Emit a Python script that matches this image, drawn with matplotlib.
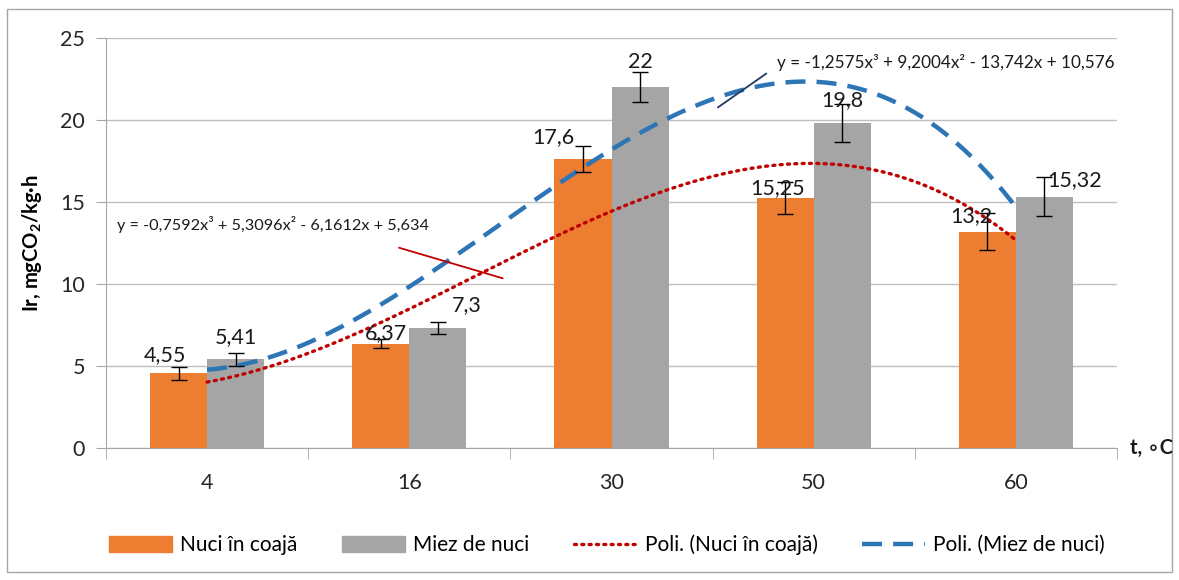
import matplotlib
matplotlib.use('Agg')
import matplotlib.pyplot as plt
import numpy as np
from matplotlib.lines import Line2D
from matplotlib.patches import Patch, Rectangle

plt.rcParams['font.family'] = ['Lato', 'DejaVu Sans']
plt.rcParams['mathtext.fontset'] = 'custom'
plt.rcParams['mathtext.rm'] = 'Lato:bold'
plt.rcParams['mathtext.it'] = 'Lato:bold'
plt.rcParams['mathtext.default'] = 'rm'

# respiration intensity vs temperature
temps = ['4', '16', '30', '50', '60']
shell = [4.55, 6.37, 17.6, 15.25, 13.2]
kernel = [5.41, 7.3, 22, 19.8, 15.32]
shell_err = [0.4, 0.25, 0.8, 1.0, 1.1]
kernel_err = [0.4, 0.37, 0.9, 1.15, 1.2]
shell_lbl = ['4,55', '6,37', '17,6', '15,25', '13,2']
kernel_lbl = ['5,41', '7,3', '22', '19,8', '15,32']

# cubic trend coefficients (x = 1..5), highest power first
shell_poly = [-0.7592, 5.3096, -6.1612, 5.634]
kernel_poly = [-1.2575, 9.2004, -13.742, 10.576]
shell_eq = 'y = -0,7592x³ + 5,3096x² - 6,1612x + 5,634'
kernel_eq = 'y = -1,2575x³ + 9,2004x² - 13,742x + 10,576'

# label nudges in pixels
shell_off = [(-14, 18), (5, 10), (-30, 22), (-8, 10), (-16, 15)]
kernel_off = [(0, 22), (29, 23), (0, 25), (0, 23), (30, 17)]

ORANGE = '#ED7D31'
GREY = '#A5A5A5'
RED = '#C00000'
BLUE = '#2E75B6'
DOTS = (0, (0.6, 1.6))
DASH = (0, (4.5, 2.5))

fig = plt.figure(figsize=(11.79, 5.80), dpi=100)
ax = fig.add_axes([106/1179, 1 - 448/580, (1117 - 106)/1179, (448 - 38)/580])

x = np.arange(len(temps))
w = 0.282
ax.bar(x - w/2, shell, w, color=ORANGE, zorder=2)
ax.bar(x + w/2, kernel, w, color=GREY, zorder=2)
ax.errorbar(x - w/2, shell, yerr=shell_err, fmt='none', ecolor='black',
            elinewidth=1, capsize=6, capthick=1, zorder=4)
ax.errorbar(x + w/2, kernel, yerr=kernel_err, fmt='none', ecolor='black',
            elinewidth=1, capsize=6, capthick=1, zorder=4)

for xi, v, t, off in zip(x - w/2, shell, shell_lbl, shell_off):
    ax.annotate(t, (xi, v), xytext=off, textcoords='offset pixels',
                ha='center', va='center', fontsize=15.5, color='#1a1a1a', zorder=5)
for xi, v, t, off in zip(x + w/2, kernel, kernel_lbl, kernel_off):
    ax.annotate(t, (xi, v), xytext=off, textcoords='offset pixels',
                ha='center', va='center', fontsize=15.5, color='#1a1a1a', zorder=5)

# polynomial trend lines through the category centres
xs = np.linspace(1, 5, 200)
ax.plot(xs - 1, np.polyval(shell_poly, xs), color=RED, lw=2.4,
        linestyle=DOTS, dash_capstyle='round', zorder=3)
ax.plot(xs - 1, np.polyval(kernel_poly, xs), color=BLUE, lw=3.2,
        linestyle=DASH, zorder=3)

ax.text(-0.445, 13.6, shell_eq, fontsize=11.7, va='center', ha='left', color='#1a1a1a')
ax.text(2.82, 23.5, kernel_eq, fontsize=12.3, va='center', ha='left', color='#1a1a1a')
ax.annotate('', xy=(1.475, 10.30), xytext=(0.936, 12.26),
            arrowprops=dict(arrowstyle='-', color=RED, lw=1.3))
ax.annotate('', xy=(2.515, 20.67), xytext=(2.777, 22.93),
            arrowprops=dict(arrowstyle='-', color='#1F3864', lw=1.3))

ax.set_xlim(-0.5, 4.5)
ax.set_ylim(0, 25)
ax.set_yticks(range(0, 26, 5))
ax.set_xticks(x)
ax.set_xticklabels(temps)
ax.set_xticks(np.arange(-0.5, 5, 1), minor=True)
ax.yaxis.grid(True, color='#BFBFBF', lw=1)
ax.set_axisbelow(True)
for s in ['top', 'right']:
    ax.spines[s].set_visible(False)
for s in ['left', 'bottom']:
    ax.spines[s].set_color('#A6A6A6')
ax.tick_params(axis='y', length=7, color='#A6A6A6', labelsize=15.5,
               labelcolor='#262626', pad=8)
ax.tick_params(axis='x', which='major', length=0, labelsize=15.5,
               labelcolor='#262626', pad=18)
ax.tick_params(axis='x', which='minor', length=8, color='#A6A6A6')

ax.set_ylabel('Ir, mgCO$_2$/kg·h', fontsize=14.5, fontweight='bold', labelpad=12)
fig.text(1151/1179, 1 - 448/580, 't, ∘C', fontsize=14.5, fontweight='bold',
         ha='center', va='center', color='#1a1a1a')

handles = [Patch(color=ORANGE), Patch(color=GREY),
           Line2D([], [], color=RED, lw=2.4, linestyle=DOTS, dash_capstyle='round'),
           Line2D([], [], color=BLUE, lw=3.2, linestyle=DASH)]
labels = ['Nuci în coajă', 'Miez de nuci', 'Poli. (Nuci în coajă)', 'Poli. (Miez de nuci)']
fig.legend(handles, labels, loc='center', bbox_to_anchor=(607/1179, 1 - 545/580),
           ncol=4, frameon=False, fontsize=15, handlelength=3.0, handleheight=0.8,
           handletextpad=0.4, columnspacing=2.15)

fig.patches.append(Rectangle((7/1179, 1 - 572/580), (1172 - 7)/1179, (572 - 9)/580,
                             transform=fig.transFigure, fill=False,
                             edgecolor='#A6A6A6', lw=1))

fig.savefig('out.png', dpi=100)
